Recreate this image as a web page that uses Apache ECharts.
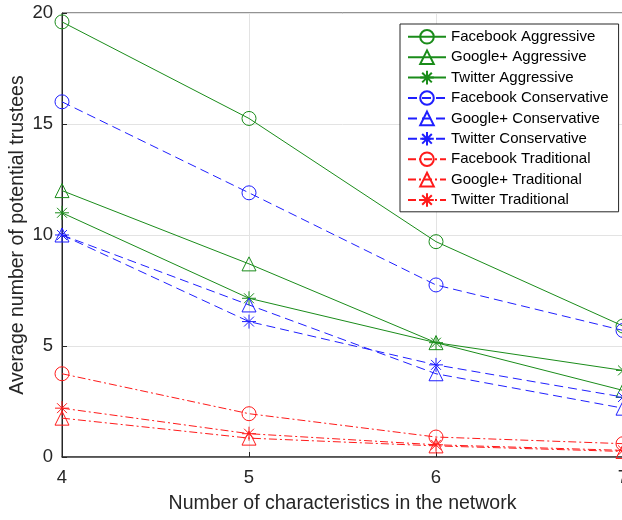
<!DOCTYPE html>
<html>
<head>
<meta charset="utf-8">
<script src="https://cdn.jsdelivr.net/npm/echarts@6/dist/echarts.min.js"></script>
<style>
html,body{margin:0;padding:0;background:#fff;}
#chart{width:622px;height:520px;}
</style>
</head>
<body>
<div id="chart"></div>
<script>
// Data
var xValues = [4, 5, 6, 7];
var seriesNames = [
  'Facebook Aggressive', 'Google+ Aggressive', 'Twitter Aggressive',
  'Facebook Conservative', 'Google+ Conservative', 'Twitter Conservative',
  'Facebook Traditional', 'Google+ Traditional', 'Twitter Traditional'
];
var facebookAggressive   = [19.6, 15.25, 9.7, 5.9];
var googleAggressive     = [12.0, 8.7, 5.15, 3.0];
var twitterAggressive    = [11.0, 7.15, 5.15, 3.9];
var facebookConservative = [16.0, 11.9, 7.75, 5.7];
var googleConservative   = [10.0, 6.85, 3.75, 2.2];
var twitterConservative  = [10.0, 6.1, 4.15, 2.7];
var facebookTraditional  = [3.75, 1.95, 0.9, 0.6];
var googleTraditional    = [1.75, 0.85, 0.5, 0.25];
var twitterTraditional   = [2.2, 1.05, 0.55, 0.3];
var yTicks = [0, 5, 10, 15, 20];
var xTicks = [4, 5, 6, 7];

var allValues = [facebookAggressive, googleAggressive, twitterAggressive,
  facebookConservative, googleConservative, twitterConservative,
  facebookTraditional, googleTraditional, twitterTraditional];

var GREEN = '#1a8c1a', BLUE = '#1f1fff', RED = '#ff1a1a';
var asterisk = 'path://M0,-10L0,10M-10,0L10,0M-7.07,-7.07L7.07,7.07M-7.07,7.07L7.07,-7.07';
var styles = [
  {c: GREEN, t: 'solid', s: 'circle', z: 14},
  {c: GREEN, t: 'solid', s: 'triangle', z: 14},
  {c: GREEN, t: 'solid', s: asterisk, z: 14},
  {c: BLUE, t: [9, 5], s: 'circle', z: 14},
  {c: BLUE, t: [9, 5], s: 'triangle', z: 14},
  {c: BLUE, t: [9, 5], s: asterisk, z: 14},
  {c: RED, t: [8, 3, 2, 3], s: 'circle', z: 14},
  {c: RED, t: [8, 3, 2, 3], s: 'triangle', z: 14},
  {c: RED, t: [8, 3, 2, 3], s: asterisk, z: 14}
];

var series = seriesNames.map(function (name, i) {
  var st = styles[i];
  return {
    name: name,
    type: 'line',
    data: xValues.map(function (x, j) { return [x, allValues[i][j]]; }),
    symbol: st.s,
    symbolSize: st.z,
    showAllSymbol: true,
    clip: false,
    lineStyle: {color: st.c, width: 1, type: st.t},
    itemStyle: {color: 'transparent', borderColor: st.c, borderWidth: 1},
    emphasis: {disabled: true},
    animation: false
  };
});

var FONT = "'Liberation Sans', Arial, Helvetica, sans-serif";
var chart = echarts.init(document.getElementById('chart'), null, {renderer: 'canvas'});
chart.setOption({
  backgroundColor: '#fff',
  animation: false,
  grid: {left: 62, right: -1, top: 13, bottom: 63, show: true,
    outerBoundsMode: 'none', containLabel: false,
    borderColor: '#262626', borderWidth: 1, backgroundColor: 'transparent'},
  xAxis: {
    type: 'value', min: xTicks[0], max: xTicks[xTicks.length - 1], interval: 1,
    name: 'Number of characteristics in the network',
    nameLocation: 'middle', nameGap: 37, nameMoveOverlap: false,
    nameTextStyle: {fontSize: 19.5, color: '#262626', fontFamily: FONT},
    axisLine: {show: true, lineStyle: {color: '#404040', width: 1.5}},
    axisTick: {show: true, inside: true, length: 5, lineStyle: {color: '#262626'}},
    axisLabel: {fontSize: 18.5, color: '#262626', fontFamily: FONT, margin: 11},
    splitLine: {show: true, lineStyle: {color: '#e3e3e3', width: 1}}
  },
  yAxis: {
    type: 'value', min: yTicks[0], max: yTicks[yTicks.length - 1], interval: 5,
    name: 'Average number of potential trustees',
    nameLocation: 'middle', nameGap: 34, nameMoveOverlap: false,
    nameTextStyle: {fontSize: 19.5, color: '#262626', fontFamily: FONT},
    axisLine: {show: true, lineStyle: {color: '#262626', width: 1}},
    axisTick: {show: true, inside: true, length: 5, lineStyle: {color: '#262626'}},
    axisLabel: {fontSize: 18.5, color: '#262626', fontFamily: FONT, margin: 9},
    splitLine: {show: true, lineStyle: {color: '#e3e3e3', width: 1}}
  },
  legend: {
    orient: 'vertical',
    left: 400, top: 24,
    padding: [5, 10, 4, 7],
    itemWidth: 38, itemHeight: 17, itemGap: 4.8,
    backgroundColor: '#fff',
    borderColor: '#262626', borderWidth: 1,
    textStyle: {fontSize: 15, color: '#000', fontFamily: FONT},
    selectedMode: false,
    data: seriesNames
  },
  series: series
});
</script>
</body>
</html>
